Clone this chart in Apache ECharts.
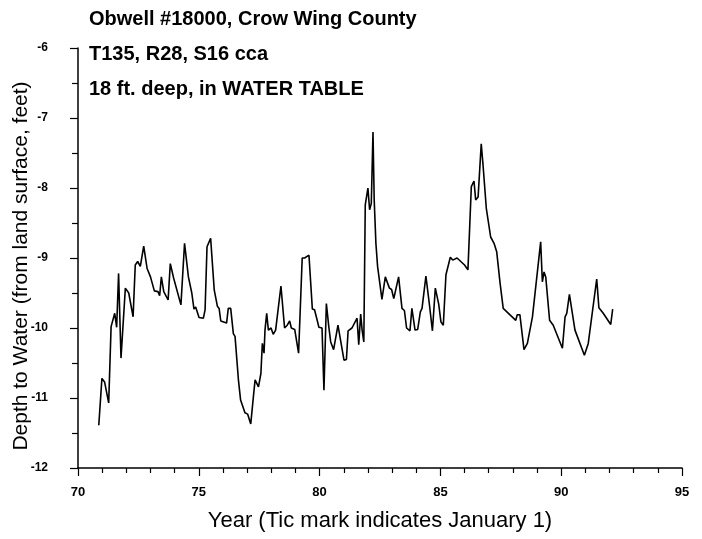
<!DOCTYPE html>
<html>
<head>
<meta charset="utf-8">
<script src="https://cdn.jsdelivr.net/npm/echarts@6/dist/echarts.min.js"></script>
<style>html,body{margin:0;padding:0;background:#fff;}#c{width:702px;height:539px;}</style>
</head>
<body>
<div id="c"></div>
<script>
const titleLines = ["Obwell #18000, Crow Wing County", "T135, R28, S16 cca", "18 ft. deep, in WATER TABLE"];
const xAxisName = "Year (Tic mark indicates January 1)";
const yAxisName = "Depth to Water (from land surface, feet)";
const years = [70.86,70.99,71.10,71.27,71.37,71.52,71.60,71.68,71.78,71.96,72.10,72.28,72.37,72.47,72.58,72.72,72.86,73.00,73.16,73.31,73.38,73.45,73.55,73.73,73.82,73.96,74.26,74.41,74.57,74.71,74.80,74.87,75.01,75.19,75.26,75.34,75.39,75.49,75.64,75.77,75.84,75.91,76.15,76.22,76.32,76.43,76.50,76.64,76.73,76.80,76.91,77.02,77.15,77.19,77.26,77.33,77.47,77.57,77.63,77.70,77.74,77.81,77.88,77.99,78.08,78.18,78.40,78.55,78.66,78.76,78.83,78.97,79.13,79.28,79.38,79.56,79.70,79.79,79.90,79.97,80.10,80.18,80.28,80.38,80.46,80.58,80.76,81.01,81.11,81.18,81.34,81.55,81.62,81.70,81.76,81.83,81.89,82.00,82.07,82.14,82.21,82.26,82.33,82.40,82.58,82.72,82.89,82.98,83.07,83.27,83.41,83.51,83.60,83.74,83.82,83.95,84.06,84.17,84.24,84.40,84.54,84.67,84.79,84.93,85.02,85.12,85.23,85.41,85.51,85.69,86.00,86.14,86.28,86.39,86.46,86.56,86.69,86.76,86.90,87.08,87.22,87.33,87.47,87.60,88.12,88.18,88.29,88.46,88.60,88.81,89.15,89.22,89.29,89.36,89.52,89.60,89.67,90.05,90.16,90.23,90.34,90.41,90.57,90.96,91.12,91.47,91.56,91.74,92.05,92.13];
const depths = [-11.39,-10.72,-10.77,-11.07,-9.98,-9.79,-9.99,-9.22,-10.43,-9.43,-9.50,-9.84,-9.10,-9.05,-9.12,-8.83,-9.15,-9.27,-9.47,-9.48,-9.54,-9.27,-9.48,-9.60,-9.08,-9.29,-9.67,-8.79,-9.27,-9.50,-9.73,-9.70,-9.85,-9.86,-9.74,-8.84,-8.86,-8.72,-9.46,-9.69,-9.72,-9.90,-9.93,-9.72,-9.72,-10.08,-10.12,-10.74,-11.03,-11.10,-11.21,-11.23,-11.37,-11.37,-10.98,-10.74,-10.84,-10.65,-10.22,-10.36,-10.03,-9.79,-10.03,-10.00,-10.09,-10.03,-9.40,-10.00,-9.96,-9.90,-10.00,-10.02,-10.36,-9.00,-9.00,-8.96,-9.73,-9.74,-9.89,-9.99,-10.00,-10.89,-9.65,-9.98,-10.20,-10.31,-9.96,-10.46,-10.45,-10.04,-10.00,-9.86,-10.24,-9.80,-10.03,-10.20,-8.24,-8.00,-8.31,-8.22,-7.20,-8.17,-8.79,-9.12,-9.59,-9.27,-9.43,-9.45,-9.58,-9.27,-9.72,-9.75,-10.00,-10.04,-9.72,-10.03,-10.02,-9.77,-9.72,-9.26,-9.65,-10.04,-9.43,-9.66,-9.91,-9.96,-9.24,-8.99,-9.03,-9.00,-9.10,-9.17,-7.98,-7.90,-8.17,-8.13,-7.37,-7.65,-8.29,-8.70,-8.79,-8.91,-9.36,-9.72,-9.89,-9.81,-9.81,-10.31,-10.22,-9.84,-8.77,-9.34,-9.20,-9.27,-9.89,-9.89,-9.96,-10.29,-9.84,-9.79,-9.52,-9.52,-10.03,-10.39,-10.22,-9.30,-9.71,-9.79,-9.95,-9.73];

const chart = echarts.init(document.getElementById('c'), null, {renderer: 'canvas'});
const data = years.map((y, i) => [y, depths[i]]);
const fontFam = '"Liberation Sans", Arial, sans-serif';
chart.setOption({
  animation: false,
  backgroundColor: '#fff',
  title: titleLines.map((t, i) => ({
    text: t, left: 84, top: 4 + i * 35,
    textStyle: {fontFamily: fontFam, fontWeight: 'bold', fontSize: 20, color: '#000'}
  })),
  grid: {left: 78, right: 20, top: 48, bottom: 71, containLabel: false, outerBoundsMode: 'none'},
  xAxis: {
    type: 'value', min: 70, max: 95, interval: 5,
    name: xAxisName, nameLocation: 'middle', nameGap: 42, nameMoveOverlap: false,
    nameTextStyle: {fontFamily: fontFam, fontSize: 22, color: '#000'},
    axisLine: {show: true, lineStyle: {color: '#000', width: 1.5}},
    axisTick: {show: true, length: 8, lineStyle: {color: '#000', width: 1.2}},
    minorTick: {show: true, splitNumber: 5, length: 5, lineStyle: {color: '#000', width: 1.2}},
    axisLabel: {fontFamily: fontFam, fontWeight: 'bold', fontSize: 13, color: '#000', margin: 18},
    splitLine: {show: false}
  },
  yAxis: {
    type: 'value', min: -12, max: -6, interval: 1,
    name: yAxisName, nameLocation: 'middle', nameGap: 46, nameMoveOverlap: false,
    nameTextStyle: {fontFamily: fontFam, fontSize: 21, color: '#000', padding: [0, 16, 0, 0]},
    axisLine: {show: true, lineStyle: {color: '#000', width: 1.5}},
    axisTick: {show: true, length: 8, lineStyle: {color: '#000', width: 1.2}},
    minorTick: {show: true, splitNumber: 2, length: 6, lineStyle: {color: '#000', width: 1.2}},
    axisLabel: {fontFamily: fontFam, fontWeight: 'bold', fontSize: 12, color: '#000', margin: 30},
    splitLine: {show: false}
  },
  series: [{
    type: 'line', data: data, symbol: 'none',
    lineStyle: {color: '#000', width: 1.6}
  }]
});
</script>
</body>
</html>
